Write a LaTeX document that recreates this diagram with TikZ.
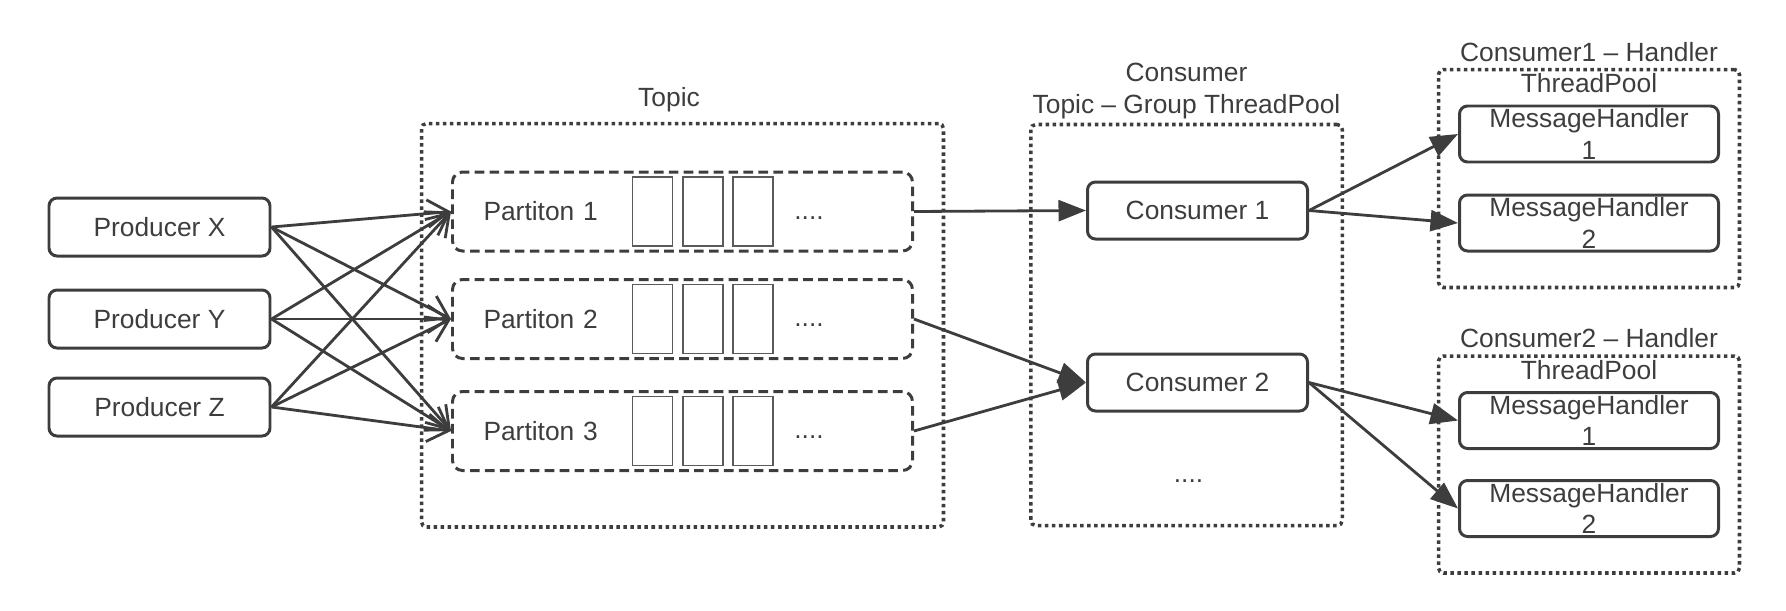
\documentclass[tikz,border=0pt]{standalone}
\usepackage{fontspec}
\setmainfont{Liberation Sans}
\usetikzlibrary{shapes,arrows.meta,positioning,calc,fit}

\definecolor{linegray}{HTML}{3D3D3D}
\definecolor{slotgray}{HTML}{5A5A5A}

\begin{document}
\begin{tikzpicture}[
  font=\fontsize{15}{18}\selectfont, text=linegray,
  box/.style={draw=linegray, line width=1.7pt, rounded corners=0.16cm, inner ysep=0pt, align=center},
  prodbox/.style={box, minimum width=4.42cm, minimum height=1.16cm},
  consbox/.style={box, minimum width=4.4cm, minimum height=1.14cm},
  handbox/.style={box, minimum width=5.18cm, minimum height=1.12cm},
  partbox/.style={draw=linegray, line width=1.7pt, rounded corners=0.2cm, dash pattern=on 5.5pt off 3pt,
    minimum width=9.2cm, minimum height=1.58cm, text width=7.96cm, inner xsep=0.62cm, align=left},
  slot/.style={draw=slotgray, line width=1.1pt, minimum width=0.8cm, minimum height=1.38cm, inner sep=0pt},
  pool/.style={draw=linegray, line width=2pt, dash pattern=on 2pt off 2pt, rounded corners=0.1cm},
  feed/.style={draw=linegray, line width=1.6pt, -{Straight Barb[length=0.42cm, width=0.55cm]}},
  pass/.style={draw=linegray, line width=1.6pt, -{Triangle[length=0.55cm, width=0.42cm]}},
]
\useasboundingbox (0,0) rectangle (35.72,-12.2);

% 生产者
\node[prodbox] (prodx) at (3.19,-4.54) {Producer X};
\node[prodbox, below of=prodx, yshift=-0.84cm] (prody) {Producer Y};
\node[prodbox, below of=prody, yshift=-0.76cm] (prodz) {Producer Z};

% 分区
\node[partbox] (part1) at (13.65,-4.23) {Partiton 1};
\node[partbox, below of=part1, yshift=-1.15cm] (part2) {Partiton 2};
\node[partbox, below of=part2, yshift=-1.24cm] (part3) {Partiton 3};

% 分区里的消息
\foreach \p in {1,2,3} {
  \foreach \dx [count=\i] in {-0.6,0.41,1.41}
    \node[slot] (msg\p\i) at ($(part\p)+(\dx,0)$) {};
  \node (more\p) at ($(part\p)+(2.53,-0.13)$) {....};
}

% Topic 外框
\node[pool, fit=(part1)(part3), inner xsep=0.59cm, inner ysep=1.02cm, yshift=-0.08cm,
  label={[label distance=0.08cm, xshift=-0.27cm]above:Topic}] (topic) {};

% 消费者线程池
\node[pool, minimum width=6.23cm, minimum height=8.02cm,
  label={[label distance=-0.05cm, align=center]above:Consumer\\Topic – Group ThreadPool}] (cgroup) at (23.73,-6.5) {};
\node[consbox] (cons1) at (23.95,-4.21) {Consumer 1};
\node[consbox, below of=cons1, yshift=-2.44cm] (cons2) {Consumer 2};
\node (cmore) at (23.77,-9.62) {....};

% 处理线程池
\node[handbox] (hd11) at (31.78,-2.68) {MessageHandler\\1};
\node[handbox, below of=hd11, yshift=-0.78cm] (hd12) {MessageHandler\\2};
\node[handbox] (hd21) at (31.78,-8.41) {MessageHandler\\1};
\node[handbox, below of=hd21, yshift=-0.76cm] (hd22) {MessageHandler\\2};
\node[pool, fit=(hd11)(hd12), inner xsep=0.39cm, inner ysep=0.7cm,
  label={[anchor=center, align=center]north:Consumer1 – Handler\\ThreadPool}] (pool1) {};
\node[pool, fit=(hd21)(hd22), inner xsep=0.39cm, inner ysep=0.7cm,
  label={[anchor=center, align=center]north:Consumer2 – Handler\\ThreadPool}] (pool2) {};

% 连接线
\foreach \src in {prodx,prody,prodz}
  \foreach \dst in {part1,part2,part3}
    \draw[feed] (\src.east) -- (\dst.west);
\draw[pass] (part1.east) -- (cons1.west);
\draw[pass] (part2.east) -- (cons2.west);
\draw[pass] (part3.east) -- (cons2.west);
\draw[pass] (cons1.east) -- (hd11.west);
\draw[pass] (cons1.east) -- (hd12.west);
\draw[pass] (cons2.east) -- (hd21.west);
\draw[pass] (cons2.east) -- (hd22.west);
\end{tikzpicture}
\end{document}
